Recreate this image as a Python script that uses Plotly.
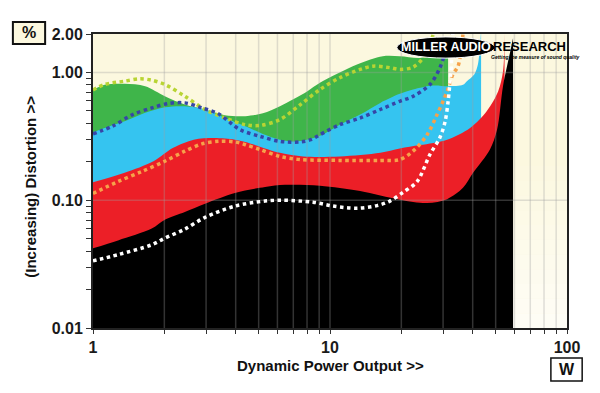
import math
import plotly.graph_objects as go

# ---------------- data (W, %) ----------------
green_w = [1.0, 1.12, 1.36, 1.66, 2.01, 2.44, 2.97, 3.6, 4.39, 5.21, 6.15, 8.0, 9.07, 13.0, 16.7, 19.7, 24.0, 29.1, 31.2, 31.5]
green_v = [0.73, 0.80, 0.815, 0.78, 0.652, 0.561, 0.513, 0.463, 0.455, 0.48, 0.545, 0.71, 0.83, 1.155, 1.34, 1.34, 1.30, 1.40, 1.45, 1.45]

cyan_w = [1.0, 1.12, 1.36, 1.66, 2.01, 2.44, 2.97, 3.61, 4.39, 5.21, 6.15, 7.3, 9.07, 11.0, 13.4, 16.3, 19.7, 22.4, 27.2, 31.5, 36.4, 37.8, 40.6, 42.1, 42.9, 43.4]
cyan_v = [0.34, 0.368, 0.415, 0.483, 0.534, 0.544, 0.513, 0.441, 0.38, 0.33, 0.298, 0.289, 0.32, 0.39, 0.468, 0.578, 0.68, 0.735, 0.79, 0.78, 0.80, 0.855, 0.965, 1.16, 1.6, 2.1]

red_w = [1.0, 1.36, 1.80, 2.18, 2.66, 3.24, 3.97, 4.39, 6.15, 7.7, 11.0, 16.3, 19.7, 24.0, 31.2, 39.0, 45.9, 51.2, 53.7, 54.5]
red_v = [0.138, 0.164, 0.202, 0.257, 0.298, 0.307, 0.298, 0.286, 0.235, 0.22, 0.22, 0.235, 0.254, 0.27, 0.298, 0.368, 0.50, 0.71, 1.02, 2.1]

black_w = [1.0, 1.275, 1.77, 2.01, 2.44, 2.97, 3.97, 5.32, 6.46, 9.07, 13.4, 19.7, 25.7, 31.2, 36.4, 40.1, 47.3, 50.7, 53.7, 57.5, 59.2]
black_v = [0.042, 0.0485, 0.060, 0.0703, 0.081, 0.094, 0.114, 0.127, 0.132, 0.13, 0.118, 0.101, 0.095, 0.102, 0.125, 0.163, 0.249, 0.357, 0.78, 1.43, 1.85]

lime_w = [1.0, 1.12, 1.36, 1.58, 1.77, 2.01, 2.44, 2.97, 3.61, 4.39, 5.07, 6.15, 7.5, 9.07, 11.0, 13.4, 15.2, 17.9, 19.7, 22.4, 24.7, 26.5, 27.5]
lime_v = [0.73, 0.805, 0.855, 0.892, 0.87, 0.805, 0.652, 0.513, 0.44, 0.39, 0.385, 0.428, 0.561, 0.736, 0.909, 1.056, 1.12, 1.09, 1.056, 1.10, 1.30, 1.7, 2.1]

blue_w = [1.0, 1.21, 1.47, 1.77, 2.07, 2.44, 2.88, 3.38, 4.17, 5.07, 6.15, 7.5, 8.3, 9.07, 11.0, 13.4, 16.3, 19.7, 22.4, 26.4, 29.1, 31.2, 31.8]
blue_v = [0.33, 0.38, 0.468, 0.528, 0.571, 0.578, 0.528, 0.475, 0.357, 0.316, 0.289, 0.286, 0.298, 0.326, 0.39, 0.44, 0.513, 0.595, 0.65, 0.805, 1.09, 1.66, 2.1]

orange_w = [1.0, 1.275, 1.61, 2.01, 2.44, 2.88, 3.38, 3.97, 4.39, 5.07, 6.15, 7.5, 11.0, 16.3, 19.7, 22.4, 25.7, 28.3, 31.2, 33.0, 34.7, 36.5]
orange_v = [0.113, 0.14, 0.168, 0.202, 0.242, 0.276, 0.289, 0.286, 0.272, 0.249, 0.22, 0.208, 0.205, 0.205, 0.208, 0.242, 0.326, 0.468, 0.71, 0.965, 1.12, 2.1]

white_w = [1.0, 1.275, 1.77, 2.01, 2.44, 2.97, 3.97, 5.32, 6.27, 8.48, 10.3, 13.0, 15.8, 17.9, 20.3, 23.3, 26.4, 29.1, 30.6, 31.5, 32.1, 32.4, 33.0]
white_v = [0.0335, 0.0375, 0.0448, 0.0505, 0.0594, 0.0734, 0.090, 0.0985, 0.1, 0.0966, 0.090, 0.0866, 0.0908, 0.0985, 0.115, 0.14, 0.228, 0.31, 0.413, 0.593, 0.85, 1.02, 2.1]

x_tickvals = [1, 2, 3, 4, 5, 6, 7, 8, 9, 10, 20, 30, 40, 50, 60, 70, 80, 90, 100]
x_labels = {1: "1", 10: "10", 100: "100"}
y_tickvals = [0.01, 0.02, 0.03, 0.04, 0.05, 0.06, 0.07, 0.08, 0.09,
              0.1, 0.2, 0.3, 0.4, 0.5, 0.6, 0.7, 0.8, 0.9, 1.0, 2.0]
y_labels = {0.01: "0.01", 0.1: "0.10", 1.0: "1.00", 2.0: "2.00"}
grid_x = [2, 3, 4, 5, 6, 7, 8, 9, 10, 20, 30, 40, 50, 60, 70, 80, 90]
grid_y = [0.1, 1.0]

# ---------------- figure ----------------
FONT = "Liberation Sans, Arial, sans-serif"
BASE = 0.004
fig = go.Figure()


def area(xs, ys, color):
    fig.add_trace(go.Scatter(x=[xs[0], xs[-1]], y=[BASE, BASE], mode="lines",
                             line=dict(width=0), hoverinfo="skip", showlegend=False))
    fig.add_trace(go.Scatter(x=xs, y=ys, mode="lines",
                             line=dict(width=0, color=color, shape="spline", smoothing=0.9),
                             fill="tonexty", fillcolor=color, hoverinfo="skip", showlegend=False))


area(green_w, green_v, "#3fb54a")
area(cyan_w, cyan_v, "#35c4f0")
area(red_w, red_v, "#ec1f27")
area(black_w, black_v, "#000000")

# gridlines over fills
gx, gy = [], []
for v in grid_x:
    gx += [v, v, None]
    gy += [0.01, 2.0, None]
for v in grid_y:
    gx += [1, 100, None]
    gy += [v, v, None]
fig.add_trace(go.Scatter(x=gx, y=gy, mode="lines", line=dict(color="rgba(160,160,160,0.32)", width=1.5),
                         hoverinfo="skip", showlegend=False))


def dotted(xs, ys, color):
    fig.add_trace(go.Scatter(x=xs, y=ys, mode="lines",
                             line=dict(color=color, width=3.5, dash="3.5px,3.5px", shape="spline", smoothing=0.9),
                             hoverinfo="skip", showlegend=False))


dotted(lime_w, lime_v, "#b8d433")
dotted(blue_w, blue_v, "#3646a8")
dotted(orange_w, orange_v, "#f6a24a")
dotted(white_w, white_v, "#ffffff")

shapes = []
# subtle background gradient (whiter towards the bottom)
nb = 12
for i in range(nb):
    y0 = i / nb * 0.6
    y1 = (i + 1) / nb * 0.6
    a = 0.7 * (1 - (i + 0.5) / nb)
    shapes.append(dict(type="rect", xref="paper", yref="paper", x0=0, x1=1, y0=y0, y1=y1,
                       fillcolor=f"rgba(255,255,255,{a:.3f})", line=dict(width=0), layer="below"))

# logo ellipse
shapes.append(dict(type="circle", xref="paper", yref="paper", x0=0.641, x1=0.848, y0=0.918, y1=0.990,
                   fillcolor="#000000", line=dict(color="#ffffff", width=1), layer="above"))
# unit boxes
shapes.append(dict(type="rect", xref="paper", yref="paper", x0=-0.169, x1=-0.101, y0=0.966, y1=1.041,
                   fillcolor="#fcf8df", line=dict(color="#111111", width=2)))
shapes.append(dict(type="rect", xref="paper", yref="paper", x0=0.966, x1=1.032, y0=-0.180, y1=-0.102,
                   fillcolor="#ffffff", line=dict(color="#111111", width=1.5)))

annotations = [
    dict(text="<b>MILLER AUDIO</b>", xref="paper", yref="paper", x=0.745, y=0.956, showarrow=False,
         font=dict(family=FONT, size=12.5, color="#ffffff"), xanchor="center", yanchor="middle"),
    dict(text="<b>RESEARCH</b>", xref="paper", yref="paper", x=0.840, y=0.956, showarrow=False,
         font=dict(family=FONT, size=13, color="#000000"), xanchor="left", yanchor="middle"),
    dict(text="<b><i>Getting the measure of sound quality</i></b>", xref="paper", yref="paper", x=0.836, y=0.922,
         showarrow=False, font=dict(family=FONT, size=5, color="#000000"), xanchor="left", yanchor="middle"),
    dict(text="<b>%</b>", xref="paper", yref="paper", x=-0.135, y=1.0035, showarrow=False,
         font=dict(family=FONT, size=16, color="#111111"), xanchor="center", yanchor="middle"),
    dict(text="<b>W</b>", xref="paper", yref="paper", x=0.999, y=-0.141, showarrow=False,
         font=dict(family=FONT, size=16, color="#111111"), xanchor="center", yanchor="middle"),
    dict(text="<b>Dynamic Power Output >></b>", xref="paper", yref="paper", x=0.5, y=-0.129, showarrow=False,
         font=dict(family=FONT, size=15, color="#111111"), xanchor="center", yanchor="middle"),
    dict(text="<b>(Increasing) Distortion >></b>", xref="paper", yref="paper", x=-0.131, y=0.48, showarrow=False,
         textangle=-90, font=dict(family=FONT, size=15, color="#111111"), xanchor="center", yanchor="middle"),
]

# page body has an 8px default margin, so the figure is sized/margined to land the plot at the right pixels
fig.update_layout(
    width=592, height=385,
    margin=dict(l=85, r=33, t=26, b=65),
    paper_bgcolor="#ffffff",
    plot_bgcolor="#fcf8df",
    showlegend=False,
    shapes=shapes,
    annotations=annotations,
    xaxis=dict(type="log", range=[0, 2], tickvals=x_tickvals,
               ticktext=[f"<b>{x_labels[v]}</b>" if v in x_labels else "" for v in x_tickvals],
               ticks="outside", ticklen=4, tickwidth=1, tickcolor="#333333",
               showgrid=False, zeroline=False, showline=True, linecolor="#222222", linewidth=2, mirror=True,
               tickfont=dict(family=FONT, size=16, color="#1a1a1a")),
    yaxis=dict(type="log", range=[-2, math.log10(2)], tickvals=y_tickvals,
               ticktext=[f"<b>{y_labels[v]}</b>" if v in y_labels else "" for v in y_tickvals],
               ticks="outside", ticklen=5, tickwidth=1, tickcolor="#333333",
               showgrid=False, zeroline=False, showline=True, linecolor="#222222", linewidth=2, mirror=True,
               tickfont=dict(family=FONT, size=16, color="#1a1a1a")),
)

fig.write_html("out.html")
